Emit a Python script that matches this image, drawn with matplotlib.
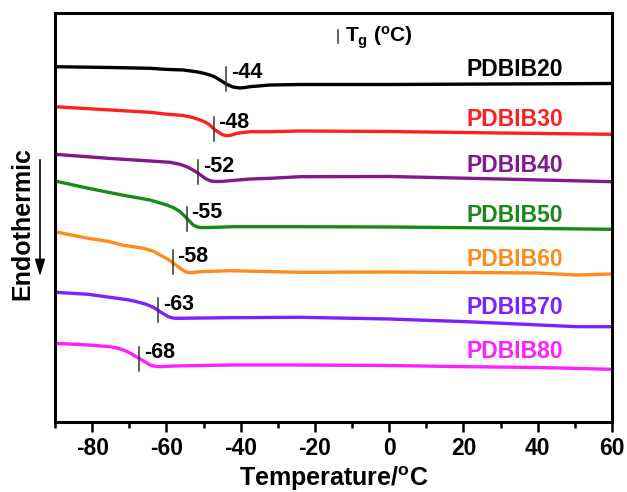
import matplotlib
matplotlib.use("Agg")
import matplotlib.pyplot as plt
from matplotlib.patches import FancyArrowPatch

plt.rcParams["font.family"] = ["Liberation Sans", "DejaVu Sans"]
plt.rcParams["axes.unicode_minus"] = False
plt.rcParams["mathtext.fontset"] = "custom"
plt.rcParams["mathtext.rm"] = "Liberation Sans:bold"
plt.rcParams["mathtext.bf"] = "Liberation Sans:bold"
plt.rcParams["mathtext.default"] = "bf"

# DSC traces (heat flow, arbitrary units, stacked)
names = ["PDBIB20", "PDBIB30", "PDBIB40", "PDBIB50", "PDBIB60", "PDBIB70", "PDBIB80"]
colors = ["#000000", "#ff1f1f", "#82188c", "#1a891a", "#ff8c1a", "#7f1fff", "#ff1fff"]
tg_values = [-44, -48, -52, -55, -58, -63, -68]
tg_marker_x = [-43.9, -47.3, -51.4, -54.5, -58.3, -62.2, -67.3]
tg_marker_top = [355.3, 305.3, 262, 215.3, 172, 123.7, 75.3]
label_y = [353, 302, 257, 207, 163, 114, 70]

temp_20 = [-90, -75, -64.4, -60.4, -55.5, -52, -50, -48.3, -47, -45.6, -43.9, -42.1,
           -41, -40.2, -39, -37.5, -32.1, -24, 0, 30, 60]
flow_20 = [355.3, 354.5, 353.7, 352.7, 352, 350.3, 348.8, 347, 345.2, 342, 338, 335,
           334.4, 334, 334.4, 335.3, 337, 337.5, 337.5, 338, 338.5]
temp_30 = [-90, -75, -64.4, -60.4, -55.5, -53, -50.9, -49.5, -48.3, -46.9, -45.1,
           -44.2, -43.3, -42.2, -41.1, -37.5, -32.1, -24, 0, 30, 60]
flow_30 = [315.3, 312, 309.7, 308, 306.5, 304.6, 302, 299.8, 297, 292, 287.7,
           286.6, 286.3, 287.2, 288.7, 290.3, 290.3, 291, 290.5, 289, 287.7]
temp_40 = [-90, -75, -64.4, -59.0, -56.5, -54.5, -53, -51.4, -49.6, -48.4, -47.4,
           -45.5, -43.8, -37.5, -32.1, -24, 0, 30, 60]
flow_40 = [267.7, 263.5, 261, 259.7, 257.8, 255.3, 252.3, 248.7, 243.7, 241.5, 240.6,
           240.5, 241, 243, 243.7, 245.3, 245.5, 243, 240.3]
temp_50 = [-90, -81, -72, -64.4, -59.9, -58, -56.3, -54.5, -52.8, -51.8, -50.9,
           -48.5, -42, -24, 0, 30, 60]
flow_50 = [241, 233.7, 227, 222, 217, 214.2, 210.3, 203.7, 197, 195.2, 194.4,
           194.5, 195.3, 195.3, 195, 194, 192.7]
temp_60 = [-90, -81, -75.2, -72, -66.2, -63.5, -61.7, -60, -58.6, -56.3, -55,
           -54.1, -52.5, -50.9, -42.9, -24, 0, 21, 40, 50.6, 60]
flow_60 = [190.3, 183.7, 180.3, 177, 173.7, 170.8, 167, 163.6, 160.3, 153.7, 150.6,
           149.4, 149.6, 150.3, 151.3, 149.7, 150, 149.5, 149, 147, 148]
temp_70 = [-90, -81, -75.2, -70.5, -68, -65.5, -63.5, -61.7, -59.5, -58.3, -57.2,
           -55, -42.9, -24, 0, 21, 50.6, 60]
flow_70 = [129.7, 127.7, 124.7, 122.3, 120.3, 117.8, 114.7, 110.3, 105.3, 104, 103.7,
           103.8, 104.3, 104.7, 103, 100.3, 95.3, 95.3]
temp_80 = [-90, -81, -75.2, -73.3, -71.6, -70.2, -68.9, -66.6, -64.4, -63, -61.7,
           -58, -42.9, -24, 0, 21, 40, 60]
flow_80 = [78.7, 77, 75.3, 74, 72, 69.8, 67, 62, 57, 55.7, 55.3,
           56, 57, 57, 56.5, 55.3, 54.5, 52.7]

temps = [temp_20, temp_30, temp_40, temp_50, temp_60, temp_70, temp_80]
flows = [flow_20, flow_30, flow_40, flow_50, flow_60, flow_70, flow_80]
xticks = [-80, -60, -40, -20, 0, 20, 40, 60]

fig = plt.figure(figsize=(6.27, 4.92), dpi=100)
ax = fig.add_axes([55 / 627, 1 - 422 / 492, 557 / 627, 409 / 492])

for t, f, c in zip(temps, flows, colors):
    ax.plot(t, f, color=c, lw=2.4, solid_capstyle="round", solid_joinstyle="round")

# Tg markers and values
for val, mx, top in zip(tg_values, tg_marker_x, tg_marker_top):
    ax.plot([mx, mx], [top, top - 24], color="#333333", lw=1.1)
    ax.text(mx + 1.2, top - 6, str(val), fontsize=15.5, fontweight="bold",
            va="center", ha="left")

for name, c, ly in zip(names, colors, label_y):
    ax.text(46.8, ly, name, color=c, fontsize=16.5, fontweight="bold",
            ha="right", va="center")

ax.plot([-13.9, -13.9], [379, 392], color="#333333", lw=1.1)
ax.text(-12.0, 380, r"T$_g$ ($^o$C)", fontsize=15, fontweight="bold",
        ha="left", va="baseline")

ax.set_xlim(-90, 60)
ax.set_ylim(0, 409)
ax.set_xticks(xticks)
ax.set_xticklabels([str(t) for t in xticks], fontweight="bold", fontsize=16.5)
ax.set_xticks(range(-90, 61, 10), minor=True)
ax.set_yticks([])
ax.tick_params(axis="x", which="major", direction="out", length=7, width=1.8, pad=4)
ax.tick_params(axis="x", which="minor", direction="out", length=4.5, width=1.8)
for s in ax.spines.values():
    s.set_linewidth(2.2)

ax.set_xlabel(r"Temperature/$^o$C", fontsize=18, fontweight="bold", labelpad=3)

fig.text(22 / 627, 1 - 224 / 492, "Endothermic", rotation=90, fontsize=18,
         fontweight="bold", ha="center", va="center")
fig.add_artist(FancyArrowPatch(
    (40 / 627, 1 - 157 / 492), (40 / 627, 1 - 279 / 492),
    transform=fig.transFigure, arrowstyle="-|>,head_length=10,head_width=3",
    color="black", lw=1.2, mutation_scale=1))

fig.savefig("out.png", dpi=100)
